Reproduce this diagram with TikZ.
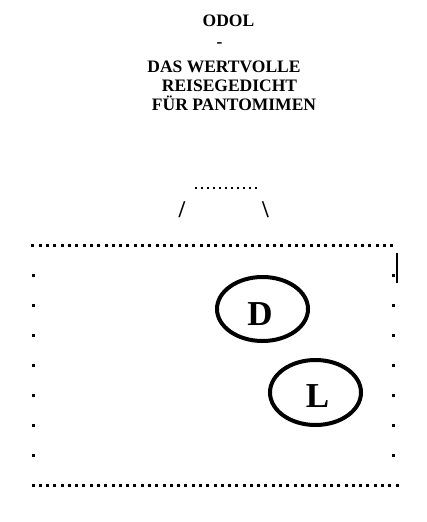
\documentclass[tikz,border=0pt]{standalone}
\usepackage{fontspec}
\setmainfont{Liberation Serif}
\begin{document}
\begin{tikzpicture}[x=1pt,y=-1pt,
  title/.style={anchor=base,inner sep=0pt,font=\fontsize{17.5}{20}\selectfont\bfseries},
  slash/.style={anchor=base,inner sep=0pt,font=\fontsize{24}{28}\selectfont\bfseries},
  letter/.style={anchor=base,inner sep=0pt,font=\fontsize{35}{40}\selectfont\bfseries},
  oval/.style={draw,line width=4pt}]
\useasboundingbox (0,0) rectangle (426,522);
% title
\node[title] (t1) at (228.5,27) {ODOL};
\node[title] (t2) at (219.5,47) {-};
\node[title] (t3) at (224,72) {DAS WERTVOLLE};
\node[title] (t4) at (229.5,91) {REISEGEDICHT};
\node[title] (t5) at (234,110) {FÜR PANTOMIMEN};
% small dotted row
\foreach \i in {0,...,10} \fill (196+\i*6-1.2,187.7-1.2) rectangle +(2.5,2.5);
\node[slash] (sl) at (182,217) {/};
\node[slash] (bs) at (265.5,217) {\textbackslash};
% big dotted lines
\foreach \i in {0,...,49} \fill (32.7+\i*7.33-1.5,245-1.5) rectangle +(3,3);
\foreach \i in {0,...,50} \fill (33+\i*7.28-1.5,485-1.5) rectangle +(3,3);
% side dots
\foreach \y in {275,305,...,455} {
  \fill (33-1.5,\y-1.5) rectangle +(3,3);
  \fill (393.3-1.5,\y-1.5) rectangle +(3,3);
}
% cursor bar
\draw[line width=2pt] (396.8,253) -- (396.8,282.7);
% ovals
\draw[oval] (262.5,309) ellipse [x radius=45.5,y radius=32];
\node[letter] (d) at (260,325) {D};
\draw[oval] (315.5,392.5) ellipse [x radius=45.5,y radius=32.5];
\node[letter] (l) at (317.5,407) {L};
\end{tikzpicture}
\end{document}
